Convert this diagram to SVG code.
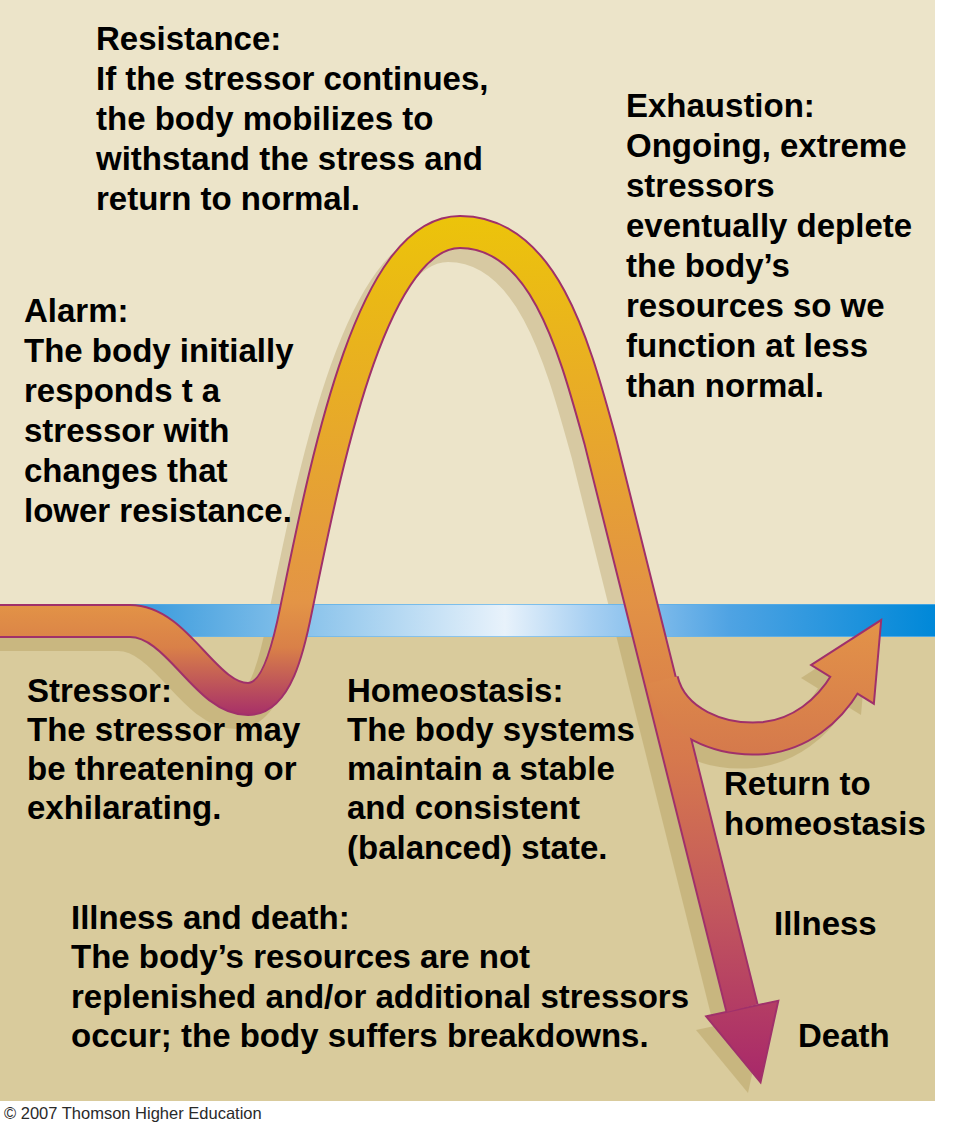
<svg xmlns="http://www.w3.org/2000/svg" width="968" height="1125" viewBox="0 0 968 1125">
<style>
.t{font-family:"Liberation Sans",Arial,sans-serif;font-weight:bold;font-size:33px;fill:#000}
.cr{font-family:"Liberation Sans",Arial,sans-serif;font-size:16.5px;fill:#2A2A2A}
.ol{fill:none;stroke:#A0306A;stroke-width:34}
.sh{fill:none;stroke:#967828;stroke-width:34}
</style>
<defs>
<linearGradient id="band" x1="0" y1="0" x2="935" y2="0" gradientUnits="userSpaceOnUse">
<stop offset="0" stop-color="#1586D6"/>
<stop offset="0.15" stop-color="#3A9BDD"/>
<stop offset="0.54" stop-color="#E8F2FB"/>
<stop offset="0.63" stop-color="#A8D0F2"/>
<stop offset="0.78" stop-color="#4FA3E3"/>
<stop offset="1" stop-color="#0088D8"/>
</linearGradient>
<linearGradient id="gL" x1="0" y1="215" x2="0" y2="718" gradientUnits="userSpaceOnUse">
<stop offset="0" stop-color="#ECC40A"/>
<stop offset="0.17" stop-color="#EAB816"/>
<stop offset="0.77" stop-color="#E39446"/>
<stop offset="0.86" stop-color="#D98048"/>
<stop offset="1" stop-color="#A52C6A"/>
</linearGradient>
<linearGradient id="gR" x1="0" y1="215" x2="0" y2="1080" gradientUnits="userSpaceOnUse">
<stop offset="0" stop-color="#ECC40A"/>
<stop offset="0.19" stop-color="#E9AE24"/>
<stop offset="0.445" stop-color="#E29245"/>
<stop offset="0.63" stop-color="#D6784D"/>
<stop offset="0.79" stop-color="#C45A5C"/>
<stop offset="1" stop-color="#A8286A"/>
</linearGradient>
<linearGradient id="gB" x1="0" y1="620" x2="0" y2="760" gradientUnits="userSpaceOnUse">
<stop offset="0" stop-color="#E39348"/>
<stop offset="1" stop-color="#D4784C"/>
</linearGradient>
<path id="pL" d="M -10 621 L 130 621 C 178 621, 205 699, 248 699 C 276 699, 288 650, 296 610 C 325 470, 370 232, 460 232"/>
<path id="pR" d="M 460 232 C 545 232, 575 350, 600 440 C 625 540, 680 760, 742 1008"/>
<path id="pB" d="M 662 680 C 672 722, 720 742, 765 738 C 800 734, 828 712, 846 682"/>
<polygon id="hD" points="708,1017 777,1002 760,1080"/>
<polygon id="hB" points="813,665 880,622 873,702"/>
</defs>

<g id="background">
<rect x="0" y="0" width="968" height="1125" fill="#FFFFFF"/>
<rect x="0" y="0" width="935" height="610" fill="#ECE4C9"/>
<rect x="0" y="630" width="935" height="471" fill="#D9CB9C"/>
</g>

<g id="shadow" transform="translate(-12,13)" opacity="0.24">
<use href="#pL" class="sh"/>
<use href="#pR" class="sh"/>
<use href="#pB" class="sh"/>
<use href="#hD" fill="#967828"/>
<use href="#hB" fill="#967828"/>
</g>

<g id="baseline-band">
<rect x="0" y="604" width="935" height="33" fill="url(#band)"/>
<line x1="0" y1="604.5" x2="935" y2="604.5" stroke="#5AAEE6" stroke-width="1" opacity="0.7"/>
<line x1="0" y1="636.5" x2="935" y2="636.5" stroke="#6DB6E8" stroke-width="1" opacity="0.7"/>
</g>

<g id="connectors">
<use href="#pL" class="ol"/>
<use href="#pR" class="ol"/>
<use href="#pB" class="ol"/>
<use href="#hD" fill="#A0306A" stroke="#A0306A" stroke-width="4"/>
<use href="#hB" fill="#A0306A" stroke="#A0306A" stroke-width="4"/>
<use href="#pL" fill="none" stroke="url(#gL)" stroke-width="30"/>
<use href="#pR" fill="none" stroke="url(#gR)" stroke-width="30"/>
<use href="#pB" fill="none" stroke="url(#gB)" stroke-width="30"/>
<use href="#hD" fill="url(#gR)"/>
<use href="#hB" fill="url(#gB)"/>
</g>

<g id="resistance">
<text class="t" x="96" y="50">Resistance:</text>
<text class="t" x="96" y="90">If the stressor continues,</text>
<text class="t" x="96" y="130">the body mobilizes to</text>
<text class="t" x="96" y="170">withstand the stress and</text>
<text class="t" x="96" y="210">return to normal.</text>
</g>

<g id="alarm">
<text class="t" x="24" y="322">Alarm:</text>
<text class="t" x="24" y="362">The body initially</text>
<text class="t" x="24" y="402">responds t a</text>
<text class="t" x="24" y="442">stressor with</text>
<text class="t" x="24" y="482">changes that</text>
<text class="t" x="24" y="522">lower resistance.</text>
</g>

<g id="exhaustion">
<text class="t" x="626" y="117">Exhaustion:</text>
<text class="t" x="626" y="157">Ongoing, extreme</text>
<text class="t" x="626" y="197">stressors</text>
<text class="t" x="626" y="237">eventually deplete</text>
<text class="t" x="626" y="277">the body’s</text>
<text class="t" x="626" y="317">resources so we</text>
<text class="t" x="626" y="357">function at less</text>
<text class="t" x="626" y="397">than normal.</text>
</g>

<g id="stressor">
<text class="t" x="27" y="702">Stressor:</text>
<text class="t" x="27" y="741">The stressor may</text>
<text class="t" x="27" y="780">be threatening or</text>
<text class="t" x="27" y="819">exhilarating.</text>
</g>

<g id="homeostasis">
<text class="t" x="347" y="702">Homeostasis:</text>
<text class="t" x="347" y="741">The body systems</text>
<text class="t" x="347" y="780">maintain a stable</text>
<text class="t" x="347" y="819">and consistent</text>
<text class="t" x="347" y="859">(balanced) state.</text>
</g>

<g id="return">
<text class="t" x="724" y="795">Return to</text>
<text class="t" x="724" y="835">homeostasis</text>
</g>

<g id="illness-death">
<text class="t" x="71" y="929">Illness and death:</text>
<text class="t" x="71" y="968">The body’s resources are not</text>
<text class="t" x="71" y="1008">replenished and/or additional stressors</text>
<text class="t" x="71" y="1047">occur; the body suffers breakdowns.</text>
</g>

<g id="illness"><text class="t" x="774" y="935">Illness</text></g>
<g id="death"><text class="t" x="798" y="1047">Death</text></g>

<text class="cr" x="4" y="1119">© 2007 Thomson Higher Education</text>
</svg>
